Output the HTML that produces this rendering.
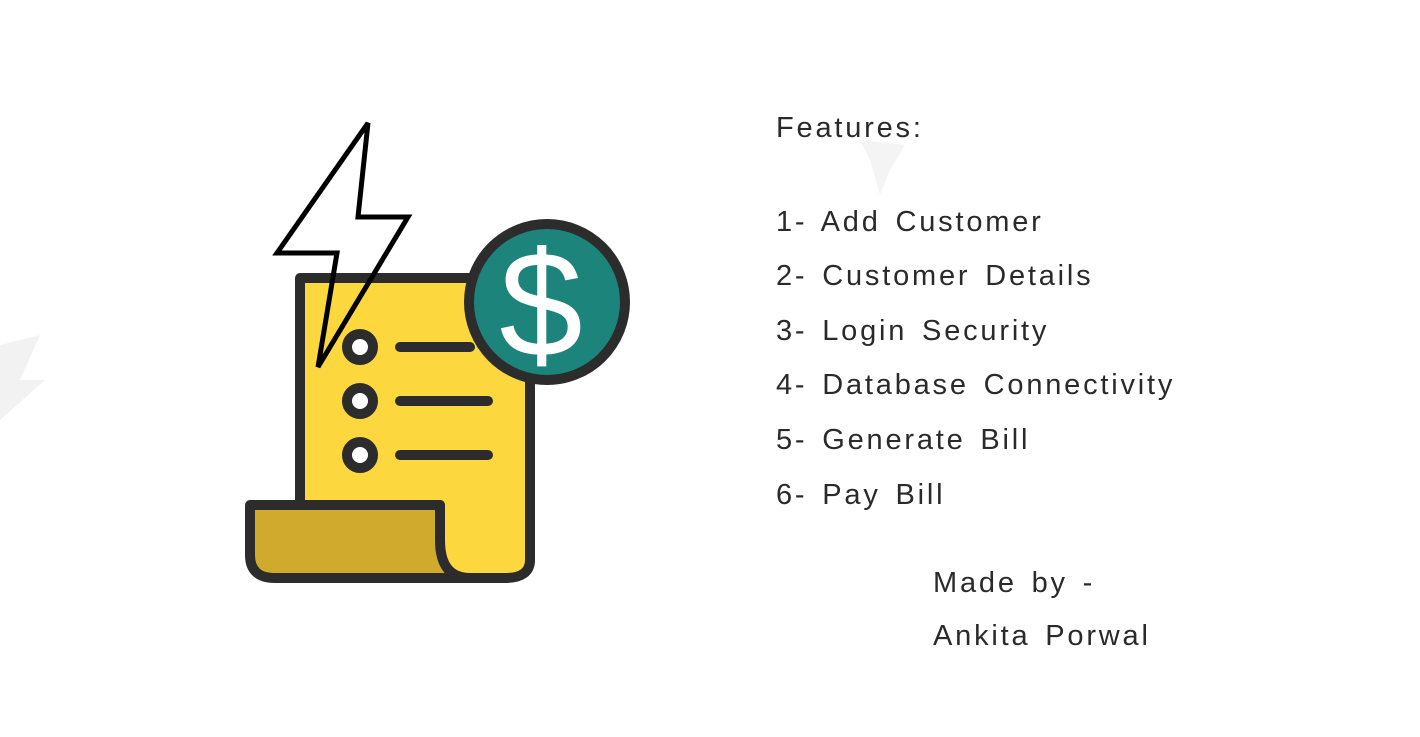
<!DOCTYPE html>
<html><head><style>
body{margin:0;width:1420px;height:737px;background:#fff;overflow:hidden;position:relative;font-family:"Liberation Sans","DejaVu Sans",sans-serif;color:#2a2a2a}
.t{position:absolute;font-size:29px;white-space:nowrap;letter-spacing:2.8px;word-spacing:4px;line-height:1}
</style></head><body>
<svg width="1420" height="737" style="position:absolute;left:0;top:0">
<path d="M0 345 L40 335 L20 380 L45 380 L0 420 Z" fill="#f2f2f2"/>
<path d="M860 140 L905 145 L890 170 L880 195 L870 160 Z" fill="#f4f4f4"/>
<path d="M300 278 H530 V560 Q530 578 505 578 H460 Q440 578 440 550 V505 H300 Z" fill="#fcd73d" stroke="#2c2c2c" stroke-width="10" stroke-linejoin="round"/>
<path d="M250 505 H440 V540 Q440 578 470 578 H275 Q250 578 250 555 Z" fill="#cfaa2c" stroke="#2c2c2c" stroke-width="10" stroke-linejoin="round"/>
<g fill="#fff" stroke="#2c2c2c" stroke-width="10">
<circle cx="360" cy="347" r="13"/><circle cx="360" cy="401" r="13"/><circle cx="360" cy="455" r="13"/></g>
<g stroke="#2c2c2c" stroke-width="10" stroke-linecap="round">
<line x1="400" y1="347" x2="470" y2="347"/><line x1="400" y1="401" x2="488" y2="401"/><line x1="400" y1="455" x2="488" y2="455"/></g>
<circle cx="547" cy="302" r="78" fill="#1d847c" stroke="#2c2c2c" stroke-width="10"/>
<text x="541" y="356" font-family="Liberation Sans" font-size="150" fill="#fff" text-anchor="middle">$</text>
<path d="M368 123 L277 253 L337 253 L318 367 L408 217 L358 217 Z" fill="none" stroke="#000" stroke-width="5" stroke-linejoin="miter"/>
</svg>
<div class="t" style="left:776px;top:114px">Features:</div>
<div class="t" style="left:776px;top:208px">1- Add Customer</div>
<div class="t" style="left:776px;top:262px">2- Customer Details</div>
<div class="t" style="left:776px;top:317px">3- Login Security</div>
<div class="t" style="left:776px;top:371px">4- Database Connectivity</div>
<div class="t" style="left:776px;top:426px">5- Generate Bill</div>
<div class="t" style="left:776px;top:481px">6- Pay Bill</div>
<div class="t" style="left:933px;top:569px">Made by -</div>
<div class="t" style="left:933px;top:622px">Ankita Porwal</div>
</body></html>
